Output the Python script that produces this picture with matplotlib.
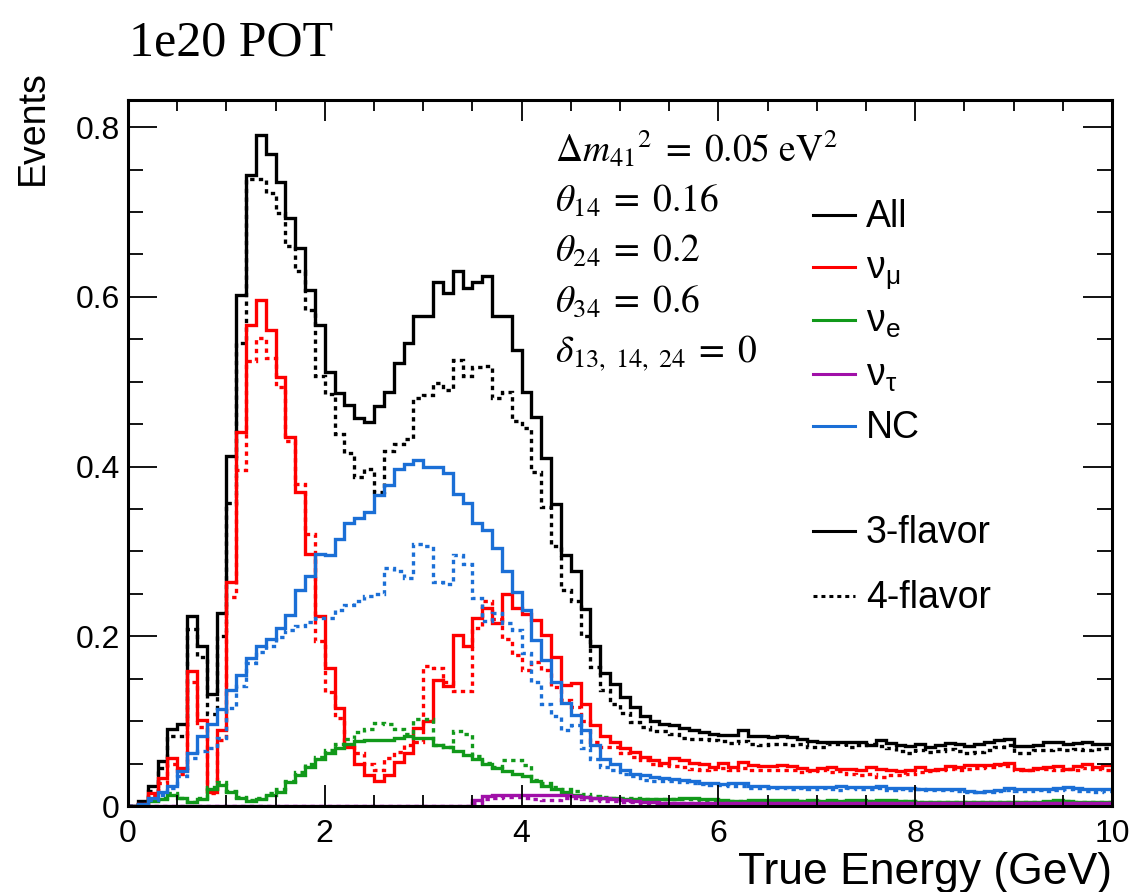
import numpy as np
import matplotlib
matplotlib.use("Agg")
import matplotlib.pyplot as plt
from matplotlib.ticker import MultipleLocator, FuncFormatter

# 100 bins of 0.1 GeV, 0-10 GeV; solid = 3-flavor, dotted = 4-flavor
bin_edges = np.arange(101) / 10.0

all_3f = [
    0.000, 0.006, 0.023, 0.053, 0.091, 0.097, 0.224, 0.188, 0.132, 0.227,
    0.413, 0.602, 0.744, 0.791, 0.768, 0.735, 0.693, 0.658, 0.608, 0.567,
    0.512, 0.487, 0.472, 0.457, 0.452, 0.471, 0.488, 0.522, 0.546, 0.578,
    0.578, 0.618, 0.604, 0.631, 0.610, 0.618, 0.625, 0.578, 0.578, 0.537,
    0.488, 0.458, 0.410, 0.356, 0.296, 0.277, 0.232, 0.188, 0.157, 0.144,
    0.129, 0.117, 0.106, 0.100, 0.097, 0.096, 0.092, 0.089, 0.087, 0.085,
    0.084, 0.084, 0.090, 0.082, 0.082, 0.081, 0.082, 0.081, 0.079, 0.077,
    0.075, 0.076, 0.075, 0.076, 0.075, 0.072, 0.078, 0.074, 0.072, 0.071,
    0.073, 0.070, 0.072, 0.074, 0.073, 0.071, 0.073, 0.075, 0.078, 0.079,
    0.071, 0.071, 0.072, 0.075, 0.075, 0.073, 0.074, 0.075, 0.073, 0.073]
all_4f = [
    0.000, 0.004, 0.018, 0.045, 0.082, 0.082, 0.209, 0.176, 0.108, 0.200,
    0.357, 0.546, 0.739, 0.739, 0.722, 0.699, 0.660, 0.631, 0.585, 0.507,
    0.485, 0.438, 0.416, 0.388, 0.397, 0.370, 0.418, 0.427, 0.433, 0.481,
    0.484, 0.498, 0.490, 0.526, 0.507, 0.517, 0.519, 0.481, 0.488, 0.454,
    0.446, 0.394, 0.352, 0.306, 0.254, 0.241, 0.200, 0.164, 0.137, 0.120,
    0.110, 0.099, 0.093, 0.088, 0.088, 0.085, 0.080, 0.079, 0.079, 0.078,
    0.077, 0.074, 0.077, 0.073, 0.072, 0.073, 0.073, 0.072, 0.073, 0.070,
    0.069, 0.073, 0.073, 0.070, 0.072, 0.073, 0.071, 0.068, 0.065, 0.063,
    0.066, 0.064, 0.065, 0.067, 0.065, 0.063, 0.064, 0.066, 0.070, 0.072,
    0.063, 0.063, 0.066, 0.066, 0.067, 0.066, 0.067, 0.066, 0.067, 0.068]
numu_3f = [
    0.000, 0.002, 0.015, 0.033, 0.056, 0.045, 0.159, 0.101, 0.017, 0.090,
    0.264, 0.441, 0.567, 0.596, 0.561, 0.506, 0.435, 0.370, 0.297, 0.224,
    0.163, 0.115, 0.070, 0.049, 0.037, 0.030, 0.037, 0.052, 0.063, 0.092,
    0.100, 0.148, 0.142, 0.201, 0.188, 0.222, 0.233, 0.216, 0.250, 0.233,
    0.226, 0.219, 0.201, 0.176, 0.143, 0.145, 0.120, 0.095, 0.082, 0.076,
    0.068, 0.064, 0.058, 0.054, 0.051, 0.056, 0.054, 0.051, 0.049, 0.046,
    0.051, 0.046, 0.052, 0.048, 0.047, 0.047, 0.048, 0.047, 0.045, 0.043,
    0.045, 0.046, 0.044, 0.044, 0.042, 0.046, 0.044, 0.042, 0.041, 0.042,
    0.046, 0.042, 0.044, 0.047, 0.046, 0.048, 0.048, 0.048, 0.050, 0.051,
    0.044, 0.043, 0.045, 0.046, 0.047, 0.044, 0.047, 0.050, 0.046, 0.048]
numu_4f = [
    0.000, 0.002, 0.012, 0.027, 0.050, 0.038, 0.146, 0.093, 0.015, 0.078,
    0.246, 0.396, 0.525, 0.552, 0.528, 0.494, 0.430, 0.380, 0.321, 0.195,
    0.134, 0.104, 0.072, 0.062, 0.049, 0.043, 0.056, 0.064, 0.072, 0.075,
    0.165, 0.163, 0.146, 0.136, 0.136, 0.210, 0.241, 0.220, 0.197, 0.178,
    0.160, 0.170, 0.160, 0.140, 0.125, 0.117, 0.100, 0.076, 0.070, 0.070,
    0.062, 0.058, 0.054, 0.050, 0.048, 0.047, 0.046, 0.044, 0.043, 0.044,
    0.045, 0.042, 0.045, 0.042, 0.043, 0.043, 0.042, 0.042, 0.040, 0.041,
    0.042, 0.040, 0.041, 0.038, 0.036, 0.038, 0.034, 0.037, 0.036, 0.038,
    0.040, 0.041, 0.042, 0.044, 0.043, 0.044, 0.045, 0.046, 0.048, 0.047,
    0.042, 0.043, 0.044, 0.044, 0.043, 0.044, 0.042, 0.045, 0.044, 0.043]
nc_3f = [
    0.000, 0.002, 0.009, 0.016, 0.024, 0.041, 0.063, 0.082, 0.097, 0.114,
    0.137, 0.154, 0.175, 0.189, 0.197, 0.210, 0.225, 0.255, 0.271, 0.297,
    0.296, 0.315, 0.333, 0.339, 0.347, 0.366, 0.378, 0.397, 0.403, 0.408,
    0.399, 0.399, 0.393, 0.368, 0.357, 0.334, 0.325, 0.304, 0.277, 0.252,
    0.231, 0.196, 0.172, 0.146, 0.121, 0.107, 0.090, 0.072, 0.055, 0.050,
    0.043, 0.038, 0.036, 0.034, 0.033, 0.032, 0.031, 0.029, 0.027, 0.027,
    0.026, 0.027, 0.027, 0.024, 0.023, 0.022, 0.022, 0.022, 0.022, 0.022,
    0.022, 0.022, 0.023, 0.022, 0.022, 0.022, 0.023, 0.021, 0.021, 0.021,
    0.020, 0.020, 0.020, 0.020, 0.020, 0.018, 0.016, 0.018, 0.019, 0.021,
    0.020, 0.020, 0.020, 0.020, 0.021, 0.022, 0.021, 0.020, 0.020, 0.020]
nc_4f = [
    0.000, 0.001, 0.007, 0.013, 0.021, 0.035, 0.056, 0.065, 0.068, 0.080,
    0.115, 0.142, 0.168, 0.181, 0.189, 0.199, 0.207, 0.212, 0.217, 0.222,
    0.222, 0.231, 0.237, 0.241, 0.247, 0.250, 0.281, 0.277, 0.269, 0.309,
    0.306, 0.264, 0.262, 0.296, 0.285, 0.245, 0.218, 0.228, 0.216, 0.207,
    0.180, 0.146, 0.120, 0.106, 0.090, 0.095, 0.068, 0.055, 0.046, 0.043,
    0.038, 0.035, 0.031, 0.029, 0.029, 0.030, 0.028, 0.027, 0.026, 0.025,
    0.025, 0.024, 0.024, 0.021, 0.021, 0.021, 0.021, 0.020, 0.021, 0.020,
    0.021, 0.020, 0.019, 0.021, 0.020, 0.020, 0.021, 0.019, 0.020, 0.019,
    0.020, 0.019, 0.019, 0.019, 0.018, 0.016, 0.016, 0.017, 0.018, 0.019,
    0.018, 0.018, 0.019, 0.018, 0.019, 0.020, 0.018, 0.018, 0.017, 0.018]
nue_3f = [
    0.000, 0.001, 0.006, 0.008, 0.013, 0.009, 0.005, 0.008, 0.020, 0.025,
    0.016, 0.010, 0.006, 0.008, 0.013, 0.017, 0.028, 0.036, 0.046, 0.055,
    0.062, 0.068, 0.073, 0.077, 0.078, 0.078, 0.078, 0.080, 0.083, 0.080,
    0.080, 0.072, 0.069, 0.065, 0.060, 0.055, 0.050, 0.045, 0.041, 0.038,
    0.035, 0.029, 0.023, 0.020, 0.017, 0.013, 0.011, 0.010, 0.009, 0.009,
    0.008, 0.008, 0.008, 0.008, 0.008, 0.008, 0.009, 0.009, 0.008, 0.008,
    0.007, 0.006, 0.006, 0.007, 0.007, 0.007, 0.007, 0.007, 0.006, 0.007,
    0.006, 0.007, 0.006, 0.007, 0.007, 0.006, 0.007, 0.007, 0.006, 0.006,
    0.005, 0.005, 0.005, 0.005, 0.005, 0.005, 0.005, 0.005, 0.005, 0.005,
    0.005, 0.005, 0.005, 0.006, 0.007, 0.006, 0.005, 0.005, 0.005, 0.005]
nue_4f = [
    0.000, 0.001, 0.007, 0.009, 0.015, 0.010, 0.005, 0.009, 0.022, 0.028,
    0.018, 0.011, 0.007, 0.009, 0.015, 0.020, 0.030, 0.040, 0.049, 0.058,
    0.066, 0.073, 0.079, 0.087, 0.091, 0.098, 0.097, 0.091, 0.085, 0.102,
    0.102, 0.072, 0.070, 0.088, 0.085, 0.059, 0.051, 0.046, 0.054, 0.054,
    0.048, 0.031, 0.027, 0.022, 0.020, 0.018, 0.014, 0.012, 0.011, 0.010,
    0.009, 0.009, 0.008, 0.008, 0.008, 0.008, 0.008, 0.008, 0.007, 0.007,
    0.006, 0.006, 0.006, 0.006, 0.006, 0.006, 0.006, 0.006, 0.006, 0.006,
    0.006, 0.006, 0.006, 0.006, 0.006, 0.006, 0.006, 0.006, 0.006, 0.006,
    0.005, 0.005, 0.005, 0.005, 0.005, 0.005, 0.005, 0.005, 0.005, 0.005,
    0.005, 0.005, 0.005, 0.005, 0.006, 0.006, 0.005, 0.005, 0.005, 0.005]
nutau_3f = [
    0.000, 0.000, 0.000, 0.000, 0.000, 0.000, 0.000, 0.000, 0.000, 0.000,
    0.000, 0.000, 0.000, 0.000, 0.000, 0.000, 0.000, 0.000, 0.000, 0.000,
    0.000, 0.000, 0.000, 0.000, 0.000, 0.000, 0.000, 0.000, 0.000, 0.000,
    0.000, 0.000, 0.000, 0.000, 0.000, 0.007, 0.012, 0.013, 0.013, 0.013,
    0.013, 0.013, 0.013, 0.013, 0.013, 0.012, 0.011, 0.010, 0.009, 0.008,
    0.007, 0.006, 0.005, 0.005, 0.004, 0.004, 0.004, 0.004, 0.004, 0.004,
    0.004, 0.004, 0.004, 0.003, 0.003, 0.003, 0.003, 0.003, 0.003, 0.003,
    0.003, 0.003, 0.003, 0.003, 0.003, 0.003, 0.003, 0.003, 0.003, 0.003,
    0.003, 0.003, 0.003, 0.003, 0.003, 0.003, 0.003, 0.003, 0.003, 0.003,
    0.003, 0.003, 0.003, 0.003, 0.003, 0.003, 0.003, 0.003, 0.003, 0.003]
nutau_4f = [
    0.000, 0.000, 0.000, 0.000, 0.000, 0.000, 0.000, 0.000, 0.000, 0.000,
    0.000, 0.000, 0.000, 0.000, 0.000, 0.000, 0.000, 0.000, 0.000, 0.000,
    0.000, 0.000, 0.000, 0.000, 0.000, 0.000, 0.000, 0.000, 0.000, 0.000,
    0.000, 0.000, 0.000, 0.000, 0.000, 0.003, 0.008, 0.009, 0.011, 0.011,
    0.010, 0.008, 0.007, 0.007, 0.009, 0.009, 0.008, 0.007, 0.006, 0.006,
    0.005, 0.005, 0.004, 0.004, 0.003, 0.003, 0.003, 0.003, 0.003, 0.003,
    0.003, 0.003, 0.003, 0.003, 0.003, 0.003, 0.003, 0.003, 0.003, 0.003,
    0.003, 0.003, 0.003, 0.003, 0.003, 0.003, 0.003, 0.003, 0.003, 0.003,
    0.003, 0.003, 0.003, 0.003, 0.003, 0.003, 0.003, 0.003, 0.003, 0.003,
    0.003, 0.003, 0.003, 0.003, 0.003, 0.003, 0.003, 0.003, 0.003, 0.003]

series = [
    ("All", "black", all_3f, all_4f),
    ("$\\mathrm{ν_{μ}}$", "#ff0000", numu_3f, numu_4f),
    ("$\\mathrm{ν_{e}}$", "#11991a", nue_3f, nue_4f),
    ("$\\mathrm{ν_{τ}}$", "#a010a8", nutau_3f, nutau_4f),
    ("NC", "#1b6fd6", nc_3f, nc_4f),
]

params = [
    r"$\Delta m_{41}{}^{2}\;=\;0.05\ \mathrm{eV}^{2}$",
    r"$\theta_{14}\;=\;0.16$",
    r"$\theta_{24}\;=\;0.2$",
    r"$\theta_{34}\;=\;0.6$",
    r"$\delta_{13,\ 14,\ 24}\;=\;0$",
]

plt.rcParams["font.family"] = ["Liberation Sans", "DejaVu Sans"]
plt.rcParams["mathtext.fontset"] = "custom"
plt.rcParams["mathtext.rm"] = "Liberation Sans"
plt.rcParams["mathtext.it"] = "Liberation Sans:italic"

W, H = 1129, 892
fig = plt.figure(figsize=(W / 100, H / 100), dpi=100)
ax = fig.add_axes([128 / W, 1 - 806 / H, (1112 - 128) / W, (806 - 100) / H])

LW = 2.4
DOT = (0, (1.3, 1.3))
for name, col, v3, v4 in series:
    ax.stairs(v4, bin_edges, baseline=None, color=col, lw=LW, ls=DOT)
    ax.stairs(v3, bin_edges, baseline=None, color=col, lw=LW)

ax.set_xlim(0, 10)
ax.set_ylim(0, 0.832)
ax.xaxis.set_major_locator(MultipleLocator(2))
ax.xaxis.set_minor_locator(MultipleLocator(0.5))
ax.yaxis.set_major_locator(MultipleLocator(0.2))
ax.yaxis.set_minor_locator(MultipleLocator(0.05))
ax.yaxis.set_major_formatter(FuncFormatter(lambda v, p: "0" if v == 0 else f"{v:g}"))
ax.tick_params(which="both", direction="in", top=True, right=True, width=1.3)
ax.tick_params(axis="x", which="major", length=15, labelsize=23, pad=9)
ax.tick_params(axis="x", which="minor", length=8)
ax.tick_params(axis="y", which="major", length=21, labelsize=23, pad=6)
ax.tick_params(axis="y", which="minor", length=11)
for sp in ax.spines.values():
    sp.set_linewidth(2.2)

ax.set_xlabel("True Energy (GeV)", fontsize=32)
ax.xaxis.label.set_ha("right")
ax.xaxis.label.set_va("baseline")
ax.xaxis.set_label_coords(1.0, -(884 - 806) / 706)
fig.text(33 / W, 1 - 70 / H, "Events", rotation=90, ha="center", va="top", fontsize=27)

fig.text(129 / W, 1 - 55 / H, "1e20 POT", family="Liberation Serif", fontsize=36, va="baseline")

for i, s in enumerate(params):
    fig.text(555 / W, 1 - (162 + 50 * i) / H, s, fontsize=27, va="baseline",
             math_fontfamily="stix")

# legend keys
key_y = [215, 267, 320, 374, 426]
for (name, col, v3, v4), y in zip(series, key_y):
    fig.add_artist(plt.Line2D([813 / W, 855 / W], [1 - y / H] * 2, color=col, lw=2.2))
    fig.text(866 / W, 1 - (y + 12) / H, name, fontsize=27, va="baseline")
for lab, ls, y in [("3-flavor", "-", 531), ("4-flavor", DOT, 596)]:
    fig.add_artist(plt.Line2D([813 / W, 855 / W], [1 - y / H] * 2, color="black", lw=2.2, ls=ls))
    fig.text(866 / W, 1 - (y + 12) / H, lab, fontsize=27, va="baseline")

fig.savefig("out.png", dpi=100)
